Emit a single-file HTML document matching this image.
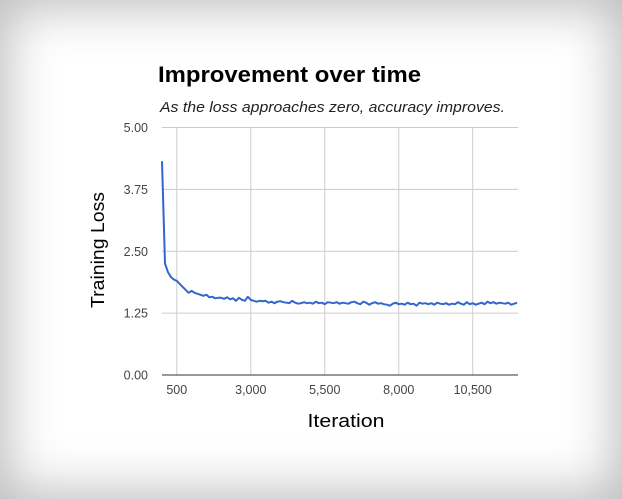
<!DOCTYPE html>
<html><head><meta charset="utf-8"><style>
html,body{margin:0;padding:0}
body{width:622px;height:499px;overflow:hidden;background:#fff;position:relative;font-family:"Liberation Sans",Arial,sans-serif}
#frame{position:absolute;left:0;top:0;width:622px;height:499px;box-shadow:inset 0 0 50px 8px rgba(0,0,0,0.26)}
</style></head><body>
<div id="frame"></div>
<svg id="chart" width="622" height="499" style="position:absolute;left:0;top:0">
<text x="158" y="82" font-size="22" font-weight="bold" fill="#000" textLength="263" lengthAdjust="spacingAndGlyphs">Improvement over time</text>
<text x="160" y="112" font-size="15" font-style="italic" fill="#222" textLength="345" lengthAdjust="spacingAndGlyphs">As the loss approaches zero, accuracy improves.</text>
<g id="grid"></g>
<g id="line"></g>
<text x="346" y="427" font-size="18" text-anchor="middle" fill="#000" textLength="77" lengthAdjust="spacingAndGlyphs">Iteration</text>
<text transform="translate(104,250) rotate(-90)" font-size="18" text-anchor="middle" fill="#000" textLength="116" lengthAdjust="spacingAndGlyphs">Training Loss</text>
</svg>
<script>
const xTicks=[500,3000,5500,8000,10500];
const xTickLabels=["500","3,000","5,500","8,000","10,500"];
const yTicks=[0,1.25,2.5,3.75,5];
const yTickLabels=["0.00","1.25","2.50","3.75","5.00"];
const iterations=[];for(let i=0;i<=120;i++)iterations.push(i*100);
const loss=[4.32,2.25,2.08,1.98,1.93,1.90,1.84,1.78,1.72,1.66,1.70,1.66,1.64,1.62,1.60,1.62,1.57,1.58,1.55,1.56,1.56,1.54,1.57,1.53,1.55,1.50,1.56,1.52,1.50,1.58,1.52,1.50,1.48,1.50,1.49,1.50,1.46,1.48,1.45,1.48,1.49,1.47,1.46,1.45,1.50,1.46,1.44,1.45,1.47,1.45,1.46,1.44,1.48,1.45,1.46,1.43,1.47,1.46,1.45,1.47,1.44,1.46,1.45,1.44,1.47,1.48,1.45,1.43,1.48,1.46,1.42,1.45,1.47,1.44,1.45,1.43,1.42,1.40,1.44,1.46,1.43,1.44,1.42,1.46,1.43,1.44,1.40,1.46,1.44,1.45,1.43,1.45,1.42,1.46,1.44,1.43,1.45,1.42,1.44,1.43,1.47,1.44,1.42,1.47,1.43,1.45,1.42,1.44,1.46,1.43,1.48,1.45,1.47,1.44,1.46,1.45,1.44,1.46,1.42,1.44,1.46];
const L=162,R=518,T=127.5,B=375,XMIN=0,XMAX=12030,YMAX=5;
const sx=v=>L+(v-XMIN)/(XMAX-XMIN)*(R-L);
const sy=v=>B-v/YMAX*(B-T);
const NS="http://www.w3.org/2000/svg";
const grid=document.getElementById('grid'),lineG=document.getElementById('line');
function mk(tag,attrs,parent){const e=document.createElementNS(NS,tag);for(const k in attrs)e.setAttribute(k,attrs[k]);parent.appendChild(e);return e;}
yTicks.forEach((v,i)=>{
 const g=mk('line',{x1:L,x2:R,y1:sy(v),y2:sy(v),stroke:i==0?'#333':'#ccc','stroke-width':1},grid);
 
 
 const t=mk('text',{x:L-14,y:sy(v)+4.5,'font-size':12.5,'text-anchor':'end',fill:'#444'},grid);
 t.textContent=yTickLabels[i];
 
 
});
xTicks.forEach((v,i)=>{
 const g=mk('line',{x1:sx(v),x2:sx(v),y1:T,y2:B,stroke:'#ccc','stroke-width':1},grid);
 
 
 const t=mk('text',{x:sx(v),y:B+19,'font-size':12.5,'text-anchor':'middle',fill:'#444'},grid);
 t.textContent=xTickLabels[i];
 
 
});
mk('line',{x1:L,x2:R,y1:B,y2:B,stroke:'#333','stroke-width':1},grid);
let d='';iterations.forEach((x,i)=>{d+=(i?'L':'M')+sx(x).toFixed(1)+','+sy(loss[i]).toFixed(1);});
const p=mk('path',{d:d,fill:'none',stroke:'#3366cc','stroke-width':2,'stroke-linejoin':'round'},lineG);


</script>
</body></html>
